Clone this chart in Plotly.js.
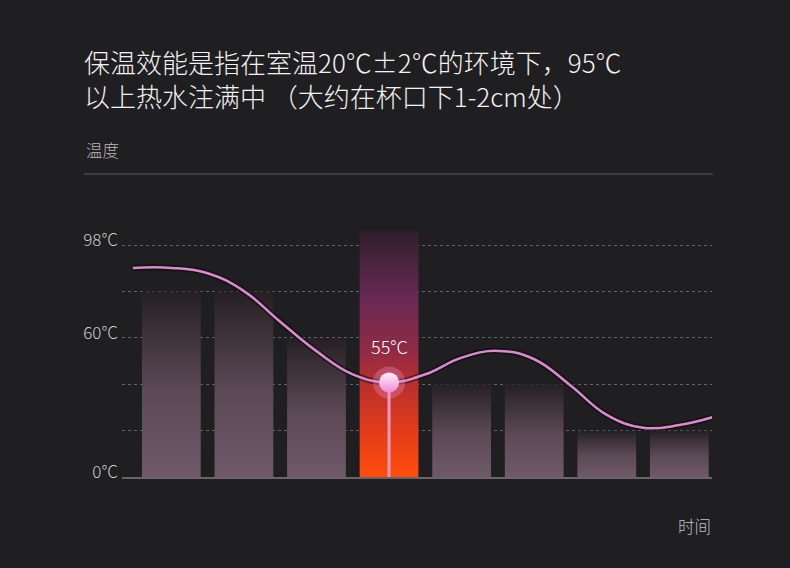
<!DOCTYPE html>
<html>
<head>
<meta charset="utf-8">
<script src="https://cdn.plot.ly/plotly-3.0.1.min.js"></script>
<style>
  html, body { margin: 0; padding: 0; background: #1f1e20; }
  #chart { width: 790px; height: 568px; }
</style>
</head>
<body>
<div id="chart"></div>
<script>
// bars: one per time slot, temperature scale values
var slots = [0, 1, 2, 3, 4, 5, 6, 7];
var barValues = [80, 80, 60, 106, 40, 40, 20, 20];
var highlightIndex = 3;
var highlightLabel = '55°C';

// the temperature curve
var curveX = [-0.53, 0, 0.5, 1, 1.5, 2, 2.5, 3, 3.5, 4, 4.5, 5, 5.5, 6, 6.5, 7, 7.46];
var curveY = [90.2, 90.2, 87.9, 80.2, 67, 54.3, 44.3, 40.8, 44.3, 51.5, 54.4, 50.8, 39.5, 26.8, 21.2, 22.4, 25.8];

// y ticks
var yTickVals = [0, 20, 40, 60, 80, 100];
var yTickText = ['0°C', '', '', '60°C', '', '98°C'];

var titleText = '保温效能是指在室温20℃±2℃的环境下，95℃<br>以上热水注满中 （大约在杯口下1-2cm处）';

var barWidth = 0.81;
var greyScale = [[0, '#6e5968'], [0.45, '#5c4a57'], [0.8, '#3b3036'], [1, '#242023']];
var hotScale = [[0, '#ff4d0a'], [0.19, '#e23b1b'], [0.38, '#b8302e'], [0.52, '#8f2a46'], [0.72, '#6a2954'], [1, '#2f1f2c']];

var data = [];

// bars as filled shapes so they can carry a vertical gradient
slots.forEach(function (c, i) {
    var v = barValues[i];
    data.push({
        x: [c - barWidth / 2, c + barWidth / 2, c + barWidth / 2, c - barWidth / 2, c - barWidth / 2],
        y: [0, 0, v, v, 0],
        type: 'scatter',
        mode: 'lines',
        fill: 'toself',
        line: { width: 0, color: 'rgba(0,0,0,0)' },
        fillcolor: i === highlightIndex ? '#b8302e' : '#5c4a57',
        fillgradient: {
            type: 'vertical',
            colorscale: i === highlightIndex ? hotScale : greyScale,
            start: 0,
            stop: v
        },
        hoverinfo: 'skip'
    });
});

var hx = slots[highlightIndex];
var hy = curveY[curveX.indexOf(hx)];

// stem from the point down to the axis
data.push({
    x: [hx, hx],
    y: [0, hy],
    type: 'scatter',
    mode: 'lines',
    line: { color: 'rgba(246,170,222,0.85)', width: 3 },
    hoverinfo: 'skip'
});

// curve shadow + curve
data.push({
    x: curveX, y: curveY,
    type: 'scatter', mode: 'lines',
    line: { shape: 'spline', smoothing: 1.2, color: 'rgba(15,8,14,0.55)', width: 6 },
    hoverinfo: 'skip'
});
data.push({
    x: curveX, y: curveY,
    type: 'scatter', mode: 'lines',
    line: { shape: 'spline', smoothing: 1.2, color: '#d98ccb', width: 2.5 },
    hoverinfo: 'skip'
});

// highlighted point: halo + dot
data.push({
    x: [hx], y: [hy],
    type: 'scatter', mode: 'markers',
    marker: { size: 32, color: 'rgba(240,150,205,0.32)', line: { width: 0 } },
    hoverinfo: 'skip'
});
data.push({
    x: [hx], y: [hy],
    type: 'scatter', mode: 'markers',
    marker: {
        size: 20,
        color: '#fff0fa',
        gradient: { type: 'vertical', color: '#f08bd4' },
        line: { width: 0 }
    },
    hoverinfo: 'skip'
});

var layout = {
    width: 790,
    height: 568,
    margin: { l: 122, r: 78, t: 222, b: 91 },
    paper_bgcolor: '#1f1e20',
    plot_bgcolor: '#1f1e20',
    showlegend: false,
    hovermode: false,
    font: { family: '"Noto Sans CJK SC", "Noto Sans", sans-serif', color: '#c8c3c6' },
    title: {
        text: titleText,
        x: 84 / 790,
        xref: 'container',
        xanchor: 'left',
        y: 1 - 73 / 568,
        yref: 'container',
        yanchor: 'top',
        font: { size: 26, weight: 300, color: '#f3f1f2', family: '"Noto Sans CJK SC", sans-serif' }
    },
    xaxis: {
        range: [-0.68, 7.45],
        showticklabels: false,
        showgrid: false,
        zeroline: false,
        showline: true,
        linecolor: '#6b6367',
        linewidth: 2,
        ticks: '',
        fixedrange: true
    },
    yaxis: {
        range: [0, 110],
        tickvals: yTickVals,
        ticktext: yTickText,
        showgrid: true,
        gridcolor: 'rgba(255,255,255,0.3)',
        griddash: '3px,3px',
        gridwidth: 1,
        zeroline: false,
        showline: false,
        ticks: '',
        ticklabelstandoff: 3,
        ticklabelshift: -5,
        tickfont: { size: 17, weight: 300, color: '#d0cbce', family: '"Noto Sans CJK SC", "Noto Sans", sans-serif' },
        fixedrange: true
    },
    shapes: [{
        type: 'line',
        xref: 'paper', yref: 'paper',
        x0: -0.0644, x1: 1.0017,
        y0: 1.188, y1: 1.188,
        line: { color: '#5f5a5d', width: 1 }
    }],
    annotations: [
        {
            text: highlightLabel,
            x: hx, y: hy,
            xref: 'x', yref: 'y',
            yshift: 36,
            showarrow: false,
            font: { size: 18, weight: 300, color: '#ffffff', family: '"Noto Sans CJK SC", "Noto Sans", sans-serif' }
        },
        {
            text: '温度',
            xref: 'paper', yref: 'paper',
            x: -0.0644, y: 1.282,
            xanchor: 'left', yanchor: 'middle',
            showarrow: false,
            font: { size: 16.5, weight: 300, color: '#bdb8bb' }
        },
        {
            text: '时间',
            xref: 'paper', yref: 'paper',
            x: 1.0017, y: -0.192,
            xanchor: 'right', yanchor: 'middle',
            showarrow: false,
            font: { size: 16.5, weight: 300, color: '#c4bfc2' }
        }
    ]
};

Plotly.newPlot('chart', data, layout, { displayModeBar: false, staticPlot: true });
</script>
</body>
</html>
